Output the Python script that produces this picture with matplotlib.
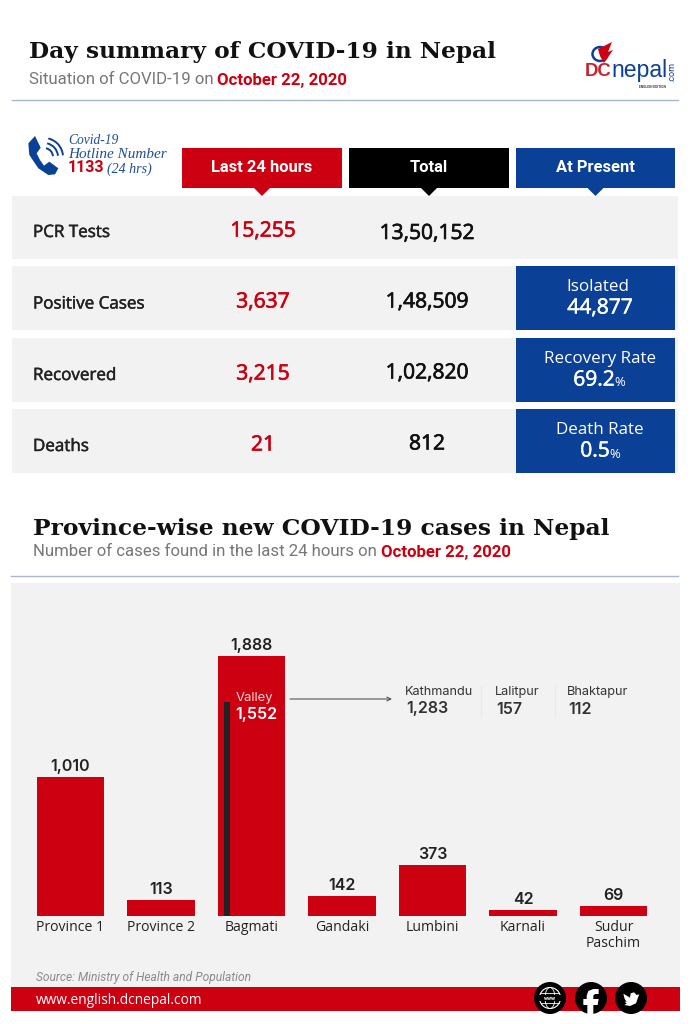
import matplotlib
matplotlib.use("Agg")
import matplotlib.pyplot as plt
import matplotlib.patheffects as pe
from matplotlib.patches import Rectangle, Polygon, Circle, Arc, Ellipse

# ---------- data ----------
provinces = ["Province 1", "Province 2", "Bagmati", "Gandaki", "Lumbini", "Karnali", "Sudur\nPaschim"]
new_cases = [1010, 113, 1888, 142, 373, 42, 69]
valley_total = 1552
valley_districts = ["Kathmandu", "Lalitpur", "Bhaktapur"]
valley_cases = ["1,283", "157", "112"]
row_names = ["PCR Tests", "Positive Cases", "Recovered", "Deaths"]
last_24 = ["15,255", "3,637", "3,215", "21"]
totals = ["13,50,152", "1,48,509", "1,02,820", "812"]
present_labels = ["Isolated", "Recovery Rate", "Death Rate"]
present_values = ["44,877", "69.2", "0.5"]
present_units = ["", "%", "%"]
headers = ["Last 24 hours", "Total", "At Present"]

RED, BLUE, GREY, INK = "#cc0011", "#0a4096", "#f2f2f2", "#222222"
W, H = 694, 1024
fig = plt.figure(figsize=(W / 100, H / 100), dpi=100, facecolor="white")
bg = fig.add_axes([0, 0, 1, 1], zorder=0)
bg.set_xlim(0, W); bg.set_ylim(H, 0); bg.axis("off")
top = fig.add_axes([0, 0, 1, 1], zorder=5)
top.set_xlim(0, W); top.set_ylim(H, 0); top.axis("off"); top.patch.set_alpha(0)

def T(x, y, s, px, color=INK, fam="Open Sans", w="normal", ha="left", st="normal", ax=bg, thick=0, **k):
    t = ax.text(x, y, s, fontsize=px * 0.72, color=color, family=fam, weight=w, ha=ha, va="center", style=st, **k)
    if thick:
        t.set_path_effects([pe.withStroke(linewidth=thick, foreground=color)])
    return t

def R(x0, y0, x1, y1, c, z=1):
    bg.add_patch(Rectangle((x0, y0), x1 - x0, y1 - y0, fc=c, ec="none", zorder=z))

def crop_poly(pts, ox, oy, c, ax=bg, z=4):
    ax.add_patch(Polygon([(ox + x / 3, oy + y / 3) for x, y in pts], fc=c, ec="none", zorder=z))

# ---------- heading ----------
T(29, 52, "Day summary of COVID-19 in Nepal", 23.3, "#111111", "DejaVu Serif", "bold")
T(29, 80, "Situation of COVID-19 on ", 16.7, "#777777", "Roboto")
T(217, 80, "October 22, 2020", 16.8, RED, "Roboto", "bold")
bg.plot([12, 678], [100, 100], color="#a9b6cb", lw=1)

# logo
T(585, 71, "DC", 18.5, "#c8202c", "Liberation Sans", "bold")
T(611, 71, "nepal", 23, BLUE, "Liberation Sans")
T(672, 72, ".com", 9, BLUE, "Roboto", rotation=90, ha="center")
T(652, 87.5, "ENGLISH EDITION", 3.2, "#333333", "Roboto", "bold", ha="center")
bg.add_patch(Ellipse((600, 54), 15, 14, fc="none", ec=BLUE, lw=1.8))
bg.add_patch(Polygon([(598, 49), (612, 42), (608, 52), (613, 50), (604, 63), (600, 56)], fc=RED, ec="none"))

# hotline
crop_poly([(45, 33), (25, 55), (28, 90), (55, 130), (85, 150), (105, 148), (115, 130), (88, 110),
           (72, 122), (60, 105), (50, 85), (62, 68)], 20, 125, BLUE)
for r in (9, 14, 19):
    bg.add_patch(Arc((44, 157), r * 2, r * 2, theta1=283, theta2=355, ec=BLUE, lw=1.4))
T(68, 141, "Covid-19", 13.5, "#1f4f96", "Liberation Serif", st="italic")
T(68, 154, "Hotline Number", 15.2, "#1f4f96", "Liberation Serif", st="italic")
T(68, 168, "1133", 16, RED, "Roboto", "bold")
T(107, 169, "(24 hrs)", 14, "#1f4f96", "Liberation Serif", st="italic")

# table
head_x = [(182, 342), (349, 509), (516, 675)]
for (x0, x1), c, s in zip(head_x, [RED, "#000000", BLUE], headers):
    R(x0, 148, x1, 188, c, 3)
    m = (x0 + x1) / 2
    bg.add_patch(Polygon([(m - 8, 188), (m + 8, 188), (m, 196)], fc=c, ec="none", zorder=3))
    T(m, 167, s, 16.5, "white", "Roboto", "bold", "center", zorder=4)

rows = [(196, 259), (266, 330), (338, 402), (409, 473)]
label_y = [233, 304.5, 376, 447]
last_y = [231, 302, 374, 445]
total_y = [233.5, 302, 373, 444]
for i, (y0, y1) in enumerate(rows):
    R(12, y0, 678, y1, GREY)
    T(33, label_y[i], row_names[i], 17, "#222222", thick=0.35)
    T(263, last_y[i], last_24[i], 21, RED, ha="center", thick=0.5)
    T(427, total_y[i], totals[i], 21, "#111111", ha="center", thick=0.5)
value_x = [600, 594, 595]
unit_x = [0, 614, 609]
label_x = [598, 600, 600]
for i, (y0, y1) in enumerate(rows[1:]):
    R(516, y0, 675, y1, BLUE, 2)
    T(label_x[i], y0 + 21, present_labels[i], 17, "white", ha="center", zorder=4)
    T(value_x[i], y0 + 42, present_values[i], 21, "white", ha="center", zorder=4, thick=0.4)
    if present_units[i]:
        T(unit_x[i], y0 + 45, present_units[i], 13, "white", zorder=4)

# ---------- second heading ----------
T(33, 528.5, "Province-wise new COVID-19 cases in Nepal", 23.4, "#111111", "DejaVu Serif", "bold")
T(33, 552, "Number of cases found in the last 24 hours on ", 16.7, "#777777", "Roboto")
T(381, 552, "October 22, 2020", 16.8, RED, "Roboto", "bold")
bg.plot([11, 678], [576, 576], color="#a9b6cb", lw=1)

R(11, 583, 680, 987, GREY)

# ---------- bar chart (own value scale) ----------
px_per_case = 260 / 1888
step, first, bar_w = 90.5, 70.5, 67.5
ax = fig.add_axes([11 / W, (H - 916) / H, (678 - 11) / W, (916 - 583) / H], zorder=2)
ax.patch.set_alpha(0)
ax.set_xlim((11 - first) / step, (678 - first) / step)
ax.set_ylim(0, (916 - 583) / px_per_case)
for s in ax.spines.values():
    s.set_visible(False)
ax.set_yticks([])
ax.bar(range(len(provinces)), new_cases, width=bar_w / step, color=RED, zorder=2)
ax.bar(2 - 0.27, valley_total, width=6 / step, color=INK, zorder=3)
ax.set_xticks(range(len(provinces)), provinces, fontsize=14 * 0.72, family="Open Sans",
              color="#222222", linespacing=1.05, va="top")
ax.tick_params(axis="x", length=0, pad=3)
for i, v in enumerate(new_cases):
    ax.annotate(f"{v:,}", (i, v), xytext=(0, 3), textcoords="offset pixels", ha="center", va="bottom",
                fontsize=16 * 0.72, weight="semibold", family="Inter", color=INK)

# valley callout
T(236, 698, "Valley", 13, "#f7d5d5", "Inter", ax=top)
T(235, 715, f"{valley_total:,}", 16, "white", "Inter", "semibold", ax=top)
top.annotate("", xy=(392, 699), xytext=(290, 699),
             arrowprops=dict(arrowstyle="->", color="#555555", lw=0.8, mutation_scale=7, shrinkA=0, shrinkB=0))
for x, d, n in zip([405, 495, 567], valley_districts, valley_cases):
    T(x, 692, d, 12.7, "#333333", "Inter", ax=top)
    T(x + 1, 709, n, 16, "#333333", "Inter", "semibold", ax=top)
for x in (481, 555):
    top.plot([x, x], [686, 716], color="#e8e8e8", lw=0.8)

# ---------- footer ----------
T(36, 977, "Source: Ministry of Health and Population", 12, "#8a8a8a", "Roboto", st="italic")
R(11, 987, 680, 1011, RED, 2)
T(36, 1000, "www.english.dcnepal.com", 13.8, "white", "Open Sans", zorder=3)
for cx in (550, 591, 631):
    bg.add_patch(Circle((cx, 998), 16, fc="#000000", ec="none", zorder=3))
bg.add_patch(Circle((550, 998), 10.5, fc="none", ec="white", lw=0.8, zorder=4))
bg.add_patch(Ellipse((550, 998), 10, 21, fc="none", ec="white", lw=0.6, zorder=4))
for dy, half in ((-5, 9), (5, 9)):
    bg.plot([550 - half, 550 + half], [998 + dy, 998 + dy], color="white", lw=0.6, zorder=4)
bg.add_patch(Rectangle((539, 995), 22, 6, fc="#000000", ec="none", zorder=5))
T(550, 998, "www", 5.5, "white", "Roboto", "bold", "center", zorder=6)
crop_poly([(172, 118), (190, 118), (190, 90), (203, 90), (206, 72), (190, 72), (190, 62), (195, 57), (206, 57),
           (206, 42), (190, 42), (175, 48), (170, 62), (170, 72), (160, 72), (160, 90), (172, 90)], 530, 975, "white")
crop_poly([(328, 58), (320, 60), (312, 52), (302, 55), (300, 68), (280, 56), (284, 72), (290, 80), (284, 80),
           (290, 86), (283, 90), (300, 93), (318, 85), (325, 65)], 530, 975, "white")

fig.savefig("out.png", dpi=100, facecolor="white")
